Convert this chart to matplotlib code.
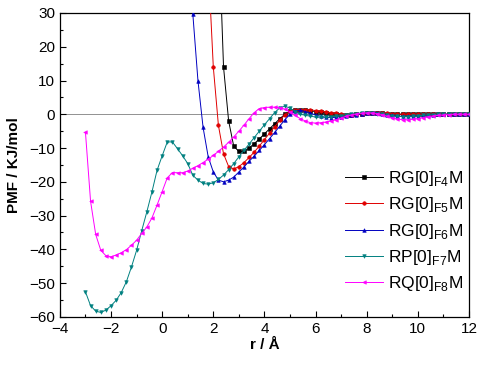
import matplotlib
matplotlib.use('Agg')
import matplotlib.pyplot as plt
from matplotlib.ticker import MultipleLocator

plt.rcParams['font.family'] = ['Liberation Sans', 'DejaVu Sans']
plt.rcParams['mathtext.fontset'] = 'custom'
plt.rcParams['mathtext.rm'] = 'Liberation Sans'

# RG[0]F4M (black squares)
x_f4 = [2.2, 2.4, 2.6, 2.8, 3.0, 3.2, 3.4, 3.6, 3.8, 4.0, 4.2, 4.4, 4.6, 4.8, 5.0, 5.2, 5.4, 5.6,
        5.8, 6.0, 6.2, 6.4, 6.6, 6.8, 7.0, 7.2, 7.4, 7.6, 7.8, 8.0, 8.2, 8.4, 8.6, 8.8, 9.0, 9.2,
        9.4, 9.6, 9.8, 10.0, 10.2, 10.4, 10.6, 10.8, 11.0, 11.2, 11.4, 11.6, 11.8, 12.0]
y_f4 = [57, 14.0, -2.0, -9.5, -11.0, -11.0, -10.0, -8.7, -7.3, -5.8, -4.3, -2.8, -1.3, 0.0, 0.9,
        1.2, 1.3, 1.2, 1.0, 0.8, 0.6, 0.4, 0.2, 0.0, -0.2, -0.3, -0.2, 0.0, 0.2, 0.4, 0.5, 0.4,
        0.3, 0.2, 0.1, 0.0, 0.0, 0.0, 0.0, 0.0, 0.0, 0.0, 0.0, 0.0, 0.0, 0.0, 0.0, 0.0, 0.0, 0.0]

# RG[0]F5M (red circles)
x_f5 = [1.8, 2.0, 2.2, 2.4, 2.6, 2.8, 3.0, 3.2, 3.4, 3.6, 3.8, 4.0, 4.2, 4.4, 4.6, 4.8, 5.0, 5.2,
        5.4, 5.6, 5.8, 6.0, 6.2, 6.4, 6.6, 6.8, 7.0, 7.2, 7.4, 7.6, 7.8, 8.0, 8.2, 8.4, 8.6, 8.8,
        9.0, 9.2, 9.4, 9.6, 9.8, 10.0, 10.2, 10.4, 10.6, 10.8, 11.0, 11.2, 11.4, 11.6, 11.8, 12.0]
y_f5 = [45, 14.0, -3.3, -11.7, -15.5, -16.2, -15.5, -14.3, -12.8, -11.2, -9.4, -7.5, -5.6, -3.7,
        -1.8, -0.2, 0.9, 1.3, 1.4, 1.4, 1.3, 1.1, 0.9, 0.7, 0.5, 0.3, 0.1, -0.1, -0.1, 0.0, 0.2,
        0.4, 0.5, 0.5, 0.4, 0.3, 0.2, 0.1, 0.0, 0.0, 0.0, 0.0, 0.0, 0.0, 0.0, 0.0, 0.0, 0.0, 0.0,
        0.0, 0.0, 0.0]

# RG[0]F6M (blue up triangles)
x_f6 = [1.0, 1.2, 1.4, 1.6, 1.8, 2.0, 2.2, 2.4, 2.6, 2.8, 3.0, 3.2, 3.4, 3.6, 3.8, 4.0, 4.2, 4.4,
        4.6, 4.8, 5.0, 5.2, 5.4, 5.6, 5.8, 6.0, 6.2, 6.4, 6.6, 6.8, 7.0, 7.2, 7.4, 7.6, 7.8, 8.0,
        8.2, 8.4, 8.6, 8.8, 9.0, 9.2, 9.4, 9.6, 9.8, 10.0, 10.2, 10.4, 10.6, 10.8, 11.0, 11.2,
        11.4, 11.6, 11.8, 12.0]
y_f6 = [60, 29.6, 9.9, -3.9, -12.6, -17.1, -19.5, -20.0, -19.5, -18.6, -17.1, -15.6, -13.9,
        -12.4, -10.7, -9.0, -7.2, -5.4, -3.5, -1.6, 0.0, 1.0, 1.2, 0.8, 0.3, -0.2, -0.6, -0.9,
        -1.0, -0.9, -0.7, -0.5, -0.3, -0.1, 0.2, 0.4, 0.5, 0.4, 0.2, -0.1, -0.3, -0.5, -0.6, -0.6,
        -0.5, -0.4, -0.3, -0.2, -0.1, 0.0, 0.0, 0.0, 0.0, 0.0, 0.0, 0.0]

# RP[0]F7M (dark cyan down triangles)
x_f7 = [-3.0, -2.8, -2.6, -2.4, -2.2, -2.0, -1.8, -1.6, -1.4, -1.2, -1.0, -0.8, -0.6, -0.4, -0.2,
        0.0, 0.2, 0.4, 0.6, 0.8, 1.0, 1.2, 1.4, 1.6, 1.8, 2.0, 2.2, 2.4, 2.6, 2.8, 3.0, 3.2, 3.4,
        3.6, 3.8, 4.0, 4.2, 4.4, 4.6, 4.8, 5.0, 5.2, 5.4, 5.6, 5.8, 6.0, 6.2, 6.4, 6.6, 6.8, 7.0,
        7.2, 7.4, 7.6, 7.8, 8.0, 8.2, 8.4, 8.6, 8.8, 9.0, 9.2, 9.4, 9.6, 9.8, 10.0, 10.2, 10.4,
        10.6, 10.8, 11.0, 11.2, 11.4, 11.6, 11.8, 12.0]
y_f7 = [-52.6, -56.7, -58.3, -58.7, -58.0, -56.7, -55.1, -52.8, -49.6, -45.2, -40.3, -34.5,
        -28.9, -23.0, -16.6, -12.3, -8.2, -8.2, -10.2, -12.3, -14.6, -18.1, -19.5, -20.5, -20.7,
        -20.3, -19.3, -18.0, -16.4, -14.6, -12.6, -10.7, -8.8, -6.9, -5.0, -3.1, -1.3, 0.5, 1.9,
        2.4, 1.8, 0.8, 0.0, -0.3, -0.6, -0.8, -0.9, -0.9, -0.8, -0.6, -0.4, -0.2, 0.0, 0.2, 0.4,
        0.5, 0.4, 0.2, 0.0, -0.3, -0.5, -0.6, -0.7, -0.7, -0.6, -0.5, -0.3, -0.2, -0.1, 0.0, 0.0,
        0.0, 0.0, 0.0, 0.0, 0.0]

# RQ[0]F8M (magenta left triangles)
x_f8 = list(x_f7)
y_f8 = [-5.4, -25.8, -35.6, -40.3, -41.9, -42.2, -41.7, -41.0, -40.1, -38.8, -37.3, -35.3,
        -33.4, -30.7, -26.9, -22.9, -18.8, -17.3, -17.3, -17.3, -16.8, -16.0, -15.2, -14.3,
        -13.3, -12.2, -11.0, -9.7, -8.3, -6.7, -5.0, -3.2, -1.3, 0.5, 1.7, 2.0, 2.1, 2.1, 2.0,
        1.5, 0.7, -0.3, -1.3, -2.0, -2.5, -2.6, -2.5, -2.3, -2.0, -1.6, -1.1, -0.6, -0.2, 0.1,
        0.3, 0.4, 0.4, 0.2, -0.1, -0.6, -1.1, -1.4, -1.6, -1.6, -1.5, -1.3, -1.0, -0.7, -0.5,
        -0.3, -0.2, -0.1, 0.0, 0.0, 0.0, 0.0]

series = [
    (x_f4, y_f4, 'RG[0]$_{\\mathregular{F4}}$M', '#000000', 's'),
    (x_f5, y_f5, 'RG[0]$_{\\mathregular{F5}}$M', '#e00000', 'o'),
    (x_f6, y_f6, 'RG[0]$_{\\mathregular{F6}}$M', '#0000c0', '^'),
    (x_f7, y_f7, 'RP[0]$_{\\mathregular{F7}}$M', '#008080', 'v'),
    (x_f8, y_f8, 'RQ[0]$_{\\mathregular{F8}}$M', '#ff00ff', '<'),
]

fig = plt.figure(figsize=(4.83, 3.71), dpi=100)
ax = fig.add_axes([0.124, 0.146, 0.847, 0.819])

ax.axhline(0, color='#808080', lw=0.6, zorder=1)

for xs, ys, lab, col, mk in series:
    ax.plot(xs, ys, color=col, marker=mk, markersize=2.6, lw=0.7, label=lab,
            markeredgewidth=0.4, zorder=3)

ax.set_xlim(-4, 12)
ax.set_ylim(-60, 30)
ax.xaxis.set_major_locator(MultipleLocator(2))
ax.xaxis.set_minor_locator(MultipleLocator(1))
ax.yaxis.set_major_locator(MultipleLocator(10))
ax.yaxis.set_minor_locator(MultipleLocator(5))
ax.tick_params(which='both', direction='in', labelsize=11, width=0.8)
ax.tick_params(which='major', length=4)
ax.tick_params(which='minor', length=2.5)
for sp in ax.spines.values():
    sp.set_linewidth(0.9)

ax.set_xlabel('r / Å', fontsize=11, fontweight='bold', labelpad=2)
ax.set_ylabel('PMF / KJ/mol', fontsize=11, fontweight='bold', labelpad=6)

ax.legend(loc='upper left', bbox_to_anchor=(0.675, 0.515), frameon=False, fontsize=12.5,
          handlelength=2.2, handletextpad=0.3, labelspacing=0.42, borderpad=0)

fig.savefig('out.png', dpi=100)
